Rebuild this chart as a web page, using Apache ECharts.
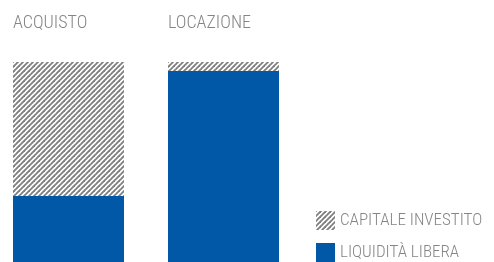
<!DOCTYPE html>
<html>
<head>
<meta charset="utf-8">
<script src="https://cdn.jsdelivr.net/npm/echarts@6/dist/echarts.min.js"></script>
<style>
html,body{margin:0;padding:0;background:#fff;}
#chart{width:494px;height:262px;}
</style>
</head>
<body>
<div id="chart"></div>
<script>
const categories = ['ACQUISTO', 'LOCAZIONE'];
const seriesNames = ['CAPITALE INVESTITO', 'LIQUIDITÀ LIBERA'];
const liquiditaLibera = [33, 95.5];
const capitaleInvestito = [67, 4.5];

const FONT = '"Roboto Condensed", "DejaVu Sans Condensed", sans-serif';
const TEXT_COLOR = '#858585';
const BLUE = '#0058a6';

function makeHatch() {
  const n = 5;
  const c = document.createElement('canvas');
  c.width = n; c.height = n;
  const ctx = c.getContext('2d');
  ctx.fillStyle = '#ffffff';
  ctx.fillRect(0, 0, n, n);
  ctx.strokeStyle = '#808080';
  ctx.lineWidth = 1.9;
  for (let k = -n; k <= n; k += n) {
    ctx.beginPath();
    ctx.moveTo(k - 1, n + 1);
    ctx.lineTo(k + n + 1, -1);
    ctx.stroke();
  }
  return c;
}
const hatch = { image: makeHatch(), repeat: 'repeat' };

const chart = echarts.init(document.getElementById('chart'), null, { renderer: 'canvas' });
chart.setOption({
  animation: false,
  textStyle: { fontFamily: FONT },
  grid: { left: -9, width: 310, top: 62, bottom: 0, containLabel: false, outerBoundsMode: 'none' },
  xAxis: {
    type: 'category',
    data: categories,
    axisLine: { show: false },
    axisTick: { show: false },
    axisLabel: { show: false },
    splitLine: { show: false }
  },
  yAxis: {
    type: 'value',
    min: 0,
    max: 100,
    show: false
  },
  legend: {
    orient: 'vertical',
    left: 316,
    top: 211,
    padding: 0,
    itemWidth: 19,
    itemHeight: 19,
    itemGap: 13,
    icon: 'rect',
    data: [seriesNames[0], seriesNames[1]],
    textStyle: { fontFamily: FONT, fontSize: 17, fontWeight: 300, color: TEXT_COLOR, padding: [4, 0, 0, 0] }
  },
  series: [
    {
      name: seriesNames[1],
      type: 'bar',
      stack: 'total',
      barWidth: 111,
      data: liquiditaLibera,
      itemStyle: { color: BLUE }
    },
    {
      name: seriesNames[0],
      type: 'bar',
      stack: 'total',
      barWidth: 111,
      data: capitaleInvestito,
      itemStyle: { color: hatch },
      label: {
        show: true,
        formatter: '{b}',
        position: [0, -39],
        align: 'left',
        verticalAlign: 'middle',
        fontFamily: FONT,
        fontSize: 18,
        fontWeight: 300,
        color: TEXT_COLOR
      }
    }
  ]
});
</script>
</body>
</html>
